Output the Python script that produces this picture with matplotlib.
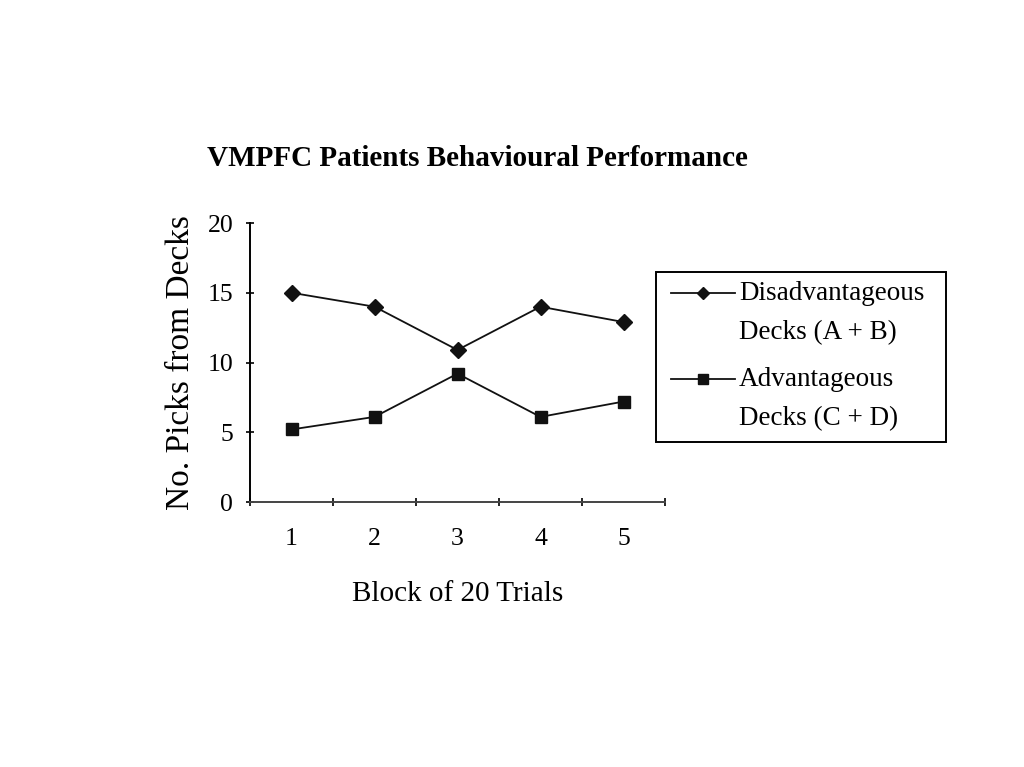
import matplotlib
matplotlib.use("Agg")
import matplotlib.pyplot as plt
from matplotlib.ticker import FixedLocator, NullFormatter
from matplotlib.lines import Line2D
from matplotlib.patches import Rectangle

blocks = [1, 2, 3, 4, 5]
block_labels = ["1", "2", "3", "4", "5"]
disadvantageous = [15.0, 14.0, 10.9, 14.0, 12.9]
advantageous = [5.2, 6.1, 9.2, 6.1, 7.2]
yticks = [0, 5, 10, 15, 20]
series_labels = ["Disadvantageous\nDecks (A + B)", "Advantageous\nDecks (C + D)"]
series_markers = ["D", "s"]

plt.rcParams['font.family'] = ['Liberation Serif', 'DejaVu Serif']

W, H = 1024, 767
fig = plt.figure(figsize=(W/100, H/100), dpi=100)
ax = fig.add_axes([250/W, 1-502/H, (665-250)/W, (502-223)/H])

def fx(px):
    return px / W

def fy(py):
    return 1 - py / H

ax.plot(blocks, disadvantageous, color='#111111', lw=1.3, marker=series_markers[0], ms=8)
ax.plot(blocks, advantageous, color='#111111', lw=1.3, marker=series_markers[1], ms=9)

ax.set_xlim(0.5, 5.5)
ax.set_ylim(0, 20)
ax.set_yticks(yticks)
ax.set_yticklabels([str(v) for v in yticks], fontsize=18.5)
ax.xaxis.set_major_locator(FixedLocator([0.5, 1.5, 2.5, 3.5, 4.5, 5.5]))
ax.xaxis.set_major_formatter(NullFormatter())
ax.xaxis.set_minor_locator(FixedLocator(blocks))
ax.set_xticklabels(block_labels, minor=True, fontsize=18.5)
ax.tick_params(axis='x', which='minor', length=0, pad=19)
ax.tick_params(axis='x', which='major', length=6, width=1.2, direction='inout')
ax.tick_params(axis='y', length=6, width=1.2, pad=9, direction='inout')
for s in ['top', 'right']:
    ax.spines[s].set_visible(False)
ax.spines['left'].set_linewidth(1.4)
ax.spines['bottom'].set_linewidth(1.4)
ax.spines['bottom'].set_color('#444444')

ax.set_xlabel('Block of 20 Trials', fontsize=21, labelpad=22)
ax.set_ylabel('No. Picks from Decks', fontsize=24, labelpad=8)

fig.text(fx(477), fy(158), 'VMPFC Patients Behavioural Performance',
         fontsize=21, fontweight='bold', ha='center', va='center')

# legend box (manual, to place handles at first line like the original)
fig.add_artist(Rectangle((fx(656), fy(442)), fx(946) - fx(656), fy(272) - fy(442),
                         transform=fig.transFigure, fill=False, edgecolor='black', lw=1.4))
entry_first_lines = [293, 379]
line_step = 40
for lab, mk, yy in zip(series_labels, series_markers, entry_first_lines):
    fig.add_artist(Line2D([fx(671), fx(735)], [fy(yy), fy(yy)], transform=fig.transFigure,
                          color='#111111', lw=1.3))
    fig.add_artist(Line2D([fx(703)], [fy(yy)], transform=fig.transFigure,
                          color='#111111', marker=mk, ms=6 if mk == 'D' else 7, lw=0))
    for i, line in enumerate(lab.split("\n")):
        fig.text(fx(739), fy(yy + i * line_step), line, fontsize=19.5,
                 ha='left', va='center')

fig.savefig('out.png', dpi=100, facecolor='white')
